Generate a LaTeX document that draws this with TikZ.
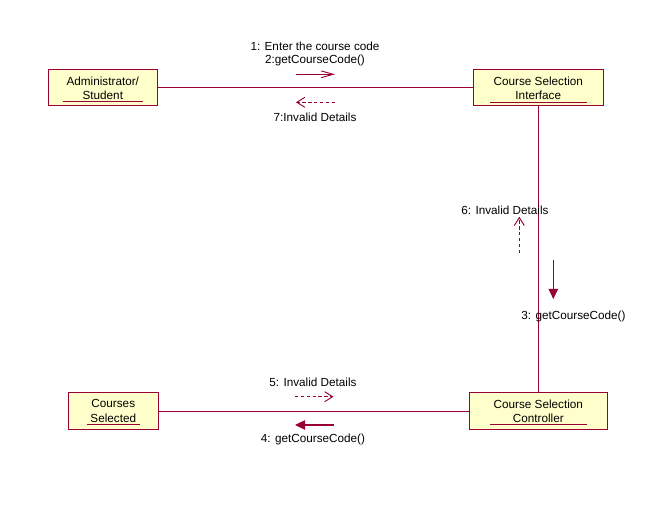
\documentclass[tikz,border=0pt]{standalone}
\usepackage{fontspec}
\setmainfont{Liberation Sans}
\usetikzlibrary{arrows.meta}
\definecolor{umlline}{HTML}{990033}
\definecolor{umlfill}{HTML}{FFFFCC}
\tikzset{
  obj/.style={draw=umlline, fill=umlfill, line width=0.75pt, rectangle, inner sep=0pt,
    align=center, font=\fontsize{8.8}{10.6}\selectfont},
  link/.style={draw=umlline, line width=0.75pt},
  uline/.style={draw=umlline, line width=0.75pt},
  msgsync/.style={draw=umlline, line width=0.7pt, -{Straight Barb[length=9pt,width=5pt]}},
  msgret/.style={draw=umlline, line width=0.7pt, dash pattern=on 2.4pt off 2pt, -{Straight Barb[length=6pt,width=7.5pt]}},
  msgcall/.style={draw=umlline, line width=0.9pt, -{Triangle[length=7.5pt,width=7pt]}},
  lbl/.style={font=\fontsize{8.8}{10.6}\selectfont, inner sep=0pt, align=center}
}
\begin{document}
\begin{tikzpicture}[x=0.75pt,y=-0.75pt]
\useasboundingbox (0,0) rectangle (667,509);
% objects
\node[obj, minimum width=109*0.75pt, minimum height=36*0.75pt] (adm) at (102.8,88) {Administrator/\\Student};
\node[obj, minimum width=130*0.75pt, minimum height=36*0.75pt] (csi) at (538.3,88) {Course Selection\\Interface};
\node[obj, minimum width=138*0.75pt, minimum height=36.6*0.75pt] (ctl) at (538.3,411) {Course Selection\\Controller};
\node[obj, minimum width=90*0.75pt, minimum height=37*0.75pt] (cs) at (113.3,411) {Courses\\Selected};
% underlines
\draw[uline] (62.7,101.7) -- (142.7,101.7);
\draw[uline] (490,102.3) -- (586.7,102.3);
\draw[uline] (490,424) -- (587,424);
\draw[uline] (86.7,424) -- (140,424);
% links
\draw[link] (adm) -- (csi);
\draw[link] (csi) -- (ctl);
\draw[link] (cs) -- (ctl);
% message coordinates
\coordinate (m1s) at (296,74.3); \coordinate (m1e) at (335,74.3);
\coordinate (m7s) at (335,102.3); \coordinate (m7e) at (296,102.3);
\coordinate (m6s) at (519.3,253); \coordinate (m6e) at (519.3,216.7);
\coordinate (m3s) at (553.3,260); \coordinate (m3e) at (553.3,299);
\coordinate (m5s) at (295,396.7); \coordinate (m5e) at (333.5,396.7);
\coordinate (m4s) at (333.5,425); \coordinate (m4e) at (295,425);
\draw[msgsync] (m1s) -- (m1e);
\draw[msgret] (m7s) -- (m7e);
\draw[msgret] (m6s) -- (m6e);
\draw[msgcall] (m3s) -- (m3e);
\draw[msgret] (m5s) -- (m5e);
\draw[msgcall] (m4s) -- (m4e);
% labels
\node[lbl] (l1) at (315,46.5) {1: Enter the course code};
\node[lbl] (l2) at (315,60.5) {2:getCourseCode()};
\node[lbl] (l7) at (315,117.5) {7:Invalid Details};
\node[lbl] (l6) at (505,210) {6: Invalid Details};
\node[lbl] (l3) at (573.5,316) {3: getCourseCode()};
\node[lbl] (l5) at (313,382.5) {5: Invalid Details};
\node[lbl] (l4) at (313,439.5) {4: getCourseCode()};
\end{tikzpicture}
\end{document}
